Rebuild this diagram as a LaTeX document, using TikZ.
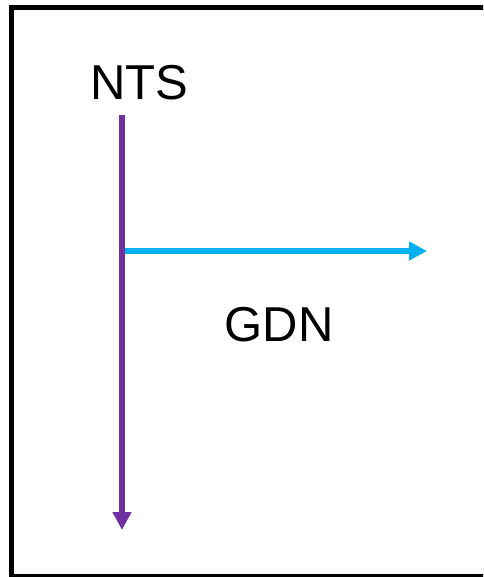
\documentclass[tikz,border=0pt]{standalone}
\usepackage{fontspec}
\setmainfont{Liberation Sans}
\usetikzlibrary{arrows.meta}
\definecolor{flowpurple}{RGB}{112,48,160}
\definecolor{flowcyan}{RGB}{0,176,240}
\tikzset{
  label text/.style={inner sep=0pt, font=\fontsize{49}{58}\selectfont},
  flow/.style={line width=6pt, -{Triangle[length=18pt,width=18pt]}},
  frame line/.style={draw=black, line width=5.5pt}
}
\begin{document}
\begin{tikzpicture}[x=1pt,y=-1pt]
  \useasboundingbox (0,0) rectangle (483,577);
  \clip (0,0) rectangle (483,577);
  % outer frame, running past the right and bottom edges
  \draw[frame line] (11.5,7.5) rectangle (500,576.5);
  % labels
  \node[label text] (nts) at (139,82.5) {NTS};
  \node[label text] (gdn) at (279,324.5) {GDN};
  % arrow end points
  \coordinate (vtop) at (122,115);
  \coordinate (vbot) at (122,530);
  \coordinate (hstart) at (125,251);
  \coordinate (hend) at (427,251);
  % arrows
  \draw[flow, draw=flowcyan, fill=flowcyan] (hstart) -- (hend);
  \draw[flow, draw=flowpurple, fill=flowpurple] (vtop) -- (vbot);
\end{tikzpicture}
\end{document}
